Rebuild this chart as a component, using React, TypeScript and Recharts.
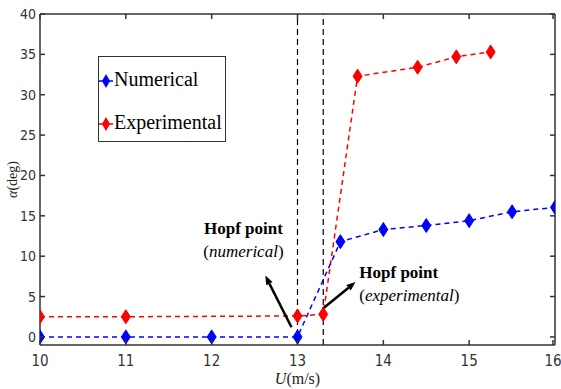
import React from "react";
import {
  ComposedChart,
  Line,
  XAxis,
  YAxis,
  ReferenceLine,
  ReferenceDot,
} from "recharts";

// flow speed U (m/s) and pitch amplitude alpha (deg)
const numU = [10, 11, 12, 13, 13.5, 14, 14.5, 15, 15.5, 16];
const numAlpha = [0, 0, 0, 0, 11.8, 13.3, 13.8, 14.4, 15.5, 16.05];
const expU = [10, 11, 13, 13.3, 13.7, 14.4, 14.85, 15.25];
const expAlpha = [2.5, 2.5, 2.6, 2.8, 32.3, 33.4, 34.7, 35.3];

const xTicks = [10, 11, 12, 13, 14, 15, 16];
const yTicks = [0, 5, 10, 15, 20, 25, 30, 35, 40];
const hopfLines = [13, 13.3];

const numData = numU.map((u, i) => ({ u, alpha: numAlpha[i] }));
const expData = expU.map((u, i) => ({ u, alpha: expAlpha[i] }));

const AXIS = "#333";
const SERIF = "'Liberation Serif', 'DejaVu Serif', serif";
const SANS = "'DejaVu Sans Condensed', 'Liberation Sans Narrow', 'DejaVu Sans', sans-serif";

const Diamond = (props: any) => {
  const { cx, cy, fill } = props;
  if (cx == null || cy == null) return null;
  return (
    <polygon
      points={`${cx},${cy - 7} ${cx + 4.5},${cy} ${cx},${cy + 7} ${cx - 4.5},${cy}`}
      fill={fill}
      stroke={fill}
      strokeWidth={1}
    />
  );
};

// ticks point inward like a matlab box
const BottomTick = ({ x, y, payload }: any) => (
  <g>
    <line x1={x} y1={y} x2={x} y2={y - 5} stroke={AXIS} strokeWidth={1.5} />
    <text x={x} y={y + 21} textAnchor="middle" fontSize={15} fill={AXIS} fontFamily={SANS}>
      {payload.value}
    </text>
  </g>
);
const TopTick = ({ x, y }: any) => (
  <line x1={x} y1={y} x2={x} y2={y + 5} stroke={AXIS} strokeWidth={1.5} />
);
const LeftTick = ({ x, y, payload }: any) => (
  <g>
    <line x1={x} y1={y} x2={x + 5} y2={y} stroke={AXIS} strokeWidth={1.5} />
    <text x={x - 4} y={y + 5} textAnchor="end" fontSize={14} fill={AXIS} fontFamily={SANS}>
      {payload.value}
    </text>
  </g>
);
const RightTick = ({ x, y }: any) => (
  <line x1={x} y1={y} x2={x - 5} y2={y} stroke={AXIS} strokeWidth={1.5} />
);

const XLabel = ({ viewBox }: any) => {
  const { x, y, width, height } = viewBox;
  return (
    <text x={x + width / 2} y={y + height - 5} textAnchor="middle" fontFamily={SERIF} fontSize={16} fill="#222">
      <tspan fontStyle="italic">U</tspan>(m/s)
    </text>
  );
};

const YLabel = ({ viewBox }: any) => {
  const { y, height } = viewBox;
  const cx = 17;
  const cy = y + height / 2;
  return (
    <text
      x={cx}
      y={cy}
      transform={`rotate(-90 ${cx} ${cy})`}
      textAnchor="middle"
      fontFamily={SERIF}
      fontSize={14}
      fill="#222"
    >
      <tspan fontStyle="italic">α</tspan>(deg)
    </text>
  );
};

const Arrow = (props: any) => {
  const { x1, y1, x2, y2 } = props;
  const ang = Math.atan2(y2 - y1, x2 - x1);
  const len = 9;
  const w = 3.5;
  const bx = x2 - len * Math.cos(ang);
  const by = y2 - len * Math.sin(ang);
  const px = -Math.sin(ang) * w;
  const py = Math.cos(ang) * w;
  return (
    <g>
      <line x1={x1} y1={y1} x2={bx} y2={by} stroke="#000" strokeWidth={2.5} />
      <polygon points={`${x2},${y2} ${bx + px},${by + py} ${bx - px},${by - py}`} fill="#000" />
    </g>
  );
};

const Note = (anchor: string, italic: string) => (props: any) => {
  const { cx, cy } = props;
  return (
    <g fontFamily={SERIF} fill="#000">
      <text x={cx} y={cy} textAnchor={anchor} fontSize={17} fontWeight="bold">
        Hopf point
      </text>
      <text x={cx} y={cy + 23} textAnchor={anchor} fontSize={17}>
        (<tspan fontStyle="italic">{italic}</tspan>)
      </text>
    </g>
  );
};

const LegendMark = ({ color }: { color: string }) => (
  <svg width={14} height={16} style={{ verticalAlign: "middle", marginRight: 1 }}>
    <line x1={0} y1={8} x2={14} y2={8} stroke={color} strokeWidth={1.5} />
    <polygon points="7,1 11,8 7,15 3,8" fill={color} />
  </svg>
);

export default function App() {
  return (
    <div style={{ position: "absolute", left: 0, top: 0, width: 561, height: 389, background: "#fff" }}>
      <ComposedChart width={561} height={389} margin={{ top: 0, right: 0, bottom: 0, left: 0 }}>
        <XAxis
          xAxisId="b"
          type="number"
          dataKey="u"
          domain={[10, 16]}
          ticks={xTicks}
          allowDataOverflow
          height={44}
          tickSize={0}
          tickMargin={0}
          tickLine={false}
          tick={<BottomTick />}
          axisLine={{ stroke: AXIS, strokeWidth: 1.5 }}
          label={{ content: XLabel }}
        />
        <XAxis
          xAxisId="t"
          orientation="top"
          type="number"
          dataKey="u"
          domain={[10, 16]}
          ticks={xTicks}
          allowDataOverflow
          height={14}
          tickSize={0}
          tickMargin={0}
          tickLine={false}
          tick={<TopTick />}
          axisLine={{ stroke: AXIS, strokeWidth: 1.5 }}
        />
        <YAxis
          yAxisId="l"
          type="number"
          domain={[-1, 40]}
          ticks={yTicks}
          allowDataOverflow
          width={40}
          tickSize={0}
          tickMargin={0}
          tickLine={false}
          tick={<LeftTick />}
          axisLine={{ stroke: AXIS, strokeWidth: 1.5 }}
          label={{ content: YLabel }}
        />
        <YAxis
          yAxisId="r"
          orientation="right"
          type="number"
          domain={[-1, 40]}
          ticks={yTicks}
          allowDataOverflow
          width={6}
          tickSize={0}
          tickMargin={0}
          tickLine={false}
          tick={<RightTick />}
          axisLine={{ stroke: AXIS, strokeWidth: 1.5 }}
        />
        {hopfLines.map((u) => (
          <ReferenceLine key={u} xAxisId="b" yAxisId="l" x={u} stroke="#000" strokeWidth={1.2} strokeDasharray="6 4" />
        ))}
        <Line
          xAxisId="b"
          yAxisId="l"
          data={expData}
          dataKey="alpha"
          stroke="#ff0000"
          fill="#ff0000"
          strokeWidth={1.5}
          strokeDasharray="5 4"
          dot={<Diamond fill="#ff0000" />}
          isAnimationActive={false}
        />
        <Line
          xAxisId="b"
          yAxisId="l"
          data={numData}
          dataKey="alpha"
          stroke="#0000ff"
          fill="#0000ff"
          strokeWidth={1.5}
          strokeDasharray="5 4"
          dot={<Diamond fill="#0000ff" />}
          isAnimationActive={false}
        />
        <ReferenceLine
          xAxisId="b"
          yAxisId="l"
          segment={[{ x: 12.93, y: 1.2 }, { x: 12.625, y: 7.6 }]}
          shape={Arrow}
        />
        <ReferenceLine
          xAxisId="b"
          yAxisId="l"
          segment={[{ x: 13.294, y: 3.5 }, { x: 13.676, y: 6.8 }]}
          shape={Arrow}
        />
        <ReferenceDot xAxisId="b" yAxisId="l" x={12.37} y={12.7} r={0} shape={Note("middle", "numerical")} />
        <ReferenceDot xAxisId="b" yAxisId="l" x={13.72} y={7.3} r={0} shape={Note("start", "experimental")} />
      </ComposedChart>
      <div
        style={{
          position: "absolute",
          left: 98,
          top: 56,
          width: 126,
          height: 84,
          border: "1.5px solid #333",
          background: "#fff",
          fontFamily: SERIF,
          fontSize: 20,
          color: "#000",
          boxSizing: "content-box",
        }}
      >
        <div style={{ position: "absolute", left: 0, top: 11, whiteSpace: "nowrap", lineHeight: "22px" }}>
          <LegendMark color="#0000ff" />
          Numerical
        </div>
        <div style={{ position: "absolute", left: 0, top: 54, whiteSpace: "nowrap", lineHeight: "22px" }}>
          <LegendMark color="#ff0000" />
          Experimental
        </div>
      </div>
    </div>
  );
}
